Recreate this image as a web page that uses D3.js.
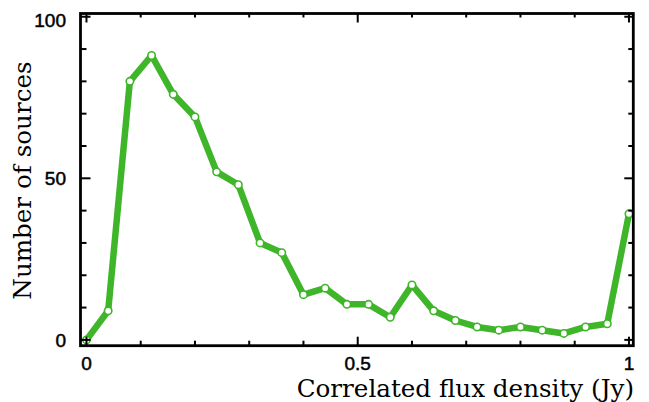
<!DOCTYPE html>
<html>
<head>
<meta charset="utf-8">
<script src="https://cdn.jsdelivr.net/npm/d3@7"></script>
<style>
  body { margin: 0; background: #fff; }
  .ticklabel { font-family: "Liberation Sans", Arial, sans-serif; font-size: 19px; fill: #000; stroke: #000; stroke-width: 0.5px; }
  .title { font-family: "DejaVu Serif", serif; font-size: 24.6px; fill: #000; }
</style>
</head>
<body>
<div id="chart"></div>
<script>
// flux density bins (Jy) and source counts
var flux = [0, 0.04, 0.08, 0.12, 0.16, 0.20, 0.24, 0.28, 0.32, 0.36, 0.40, 0.44, 0.48,
            0.52, 0.56, 0.60, 0.64, 0.68, 0.72, 0.76, 0.80, 0.84, 0.88, 0.92, 0.96, 1.00];
var counts = [0, 9, 80, 88, 76, 69, 52, 48, 30, 27, 14, 16, 11,
              11, 7, 17, 9, 6, 4, 3, 4, 3, 2, 4, 5, 39];
var xTickLabels = [0, 0.5, 1];
var yTickLabels = [0, 50, 100];

var W = 649, H = 402;
var plot = { left: 80.5, right: 633.3, top: 13.5, bottom: 345.7 };

var svg = d3.select('#chart').append('svg')
    .attr('width', W)
    .attr('height', H);

var x = d3.scaleLinear().domain([-0.011, 1.008]).range([plot.left, plot.right]);
var y = d3.scaleLinear().domain([-1.8, 101]).range([plot.bottom, plot.top]);

var data = flux.map((f, i) => ({ f: f, n: counts[i] }));

var green = '#3fb52a';

// line
var line = d3.line()
    .x(d => x(d.f))
    .y(d => y(d.n));

svg.append('path')
    .datum(data)
    .attr('d', line)
    .attr('fill', 'none')
    .attr('stroke', green)
    .attr('stroke-width', 6.5)
    .attr('stroke-linejoin', 'round');

svg.selectAll('.pt')
    .data(data)
    .enter()
    .append('circle')
    .attr('class', 'pt')
    .attr('cx', d => x(d.f))
    .attr('cy', d => y(d.n))
    .attr('r', 3.7)
    .attr('fill', '#fff')
    .attr('stroke', green)
    .attr('stroke-width', 1.6);

// ticks, inward on all four sides
var xt = d3.range(0, 11).map(i => i / 10);
var yt = d3.range(0, 11).map(i => i * 10);
var isMajorX = v => Math.abs(v % 0.5) < 1e-9 || Math.abs(v - 1) < 1e-9;
var isMajorY = v => v % 50 === 0;

var ticks = svg.append('g')
    .attr('stroke', '#000')
    .attr('stroke-width', 2);

ticks.selectAll('.xb')
    .data(xt).enter().append('line')
    .attr('x1', d => x(d)).attr('x2', d => x(d))
    .attr('y1', plot.bottom).attr('y2', d => plot.bottom - (isMajorX(d) ? 9 : 5));

ticks.selectAll('.xt')
    .data(xt).enter().append('line')
    .attr('x1', d => x(d)).attr('x2', d => x(d))
    .attr('y1', plot.top).attr('y2', d => plot.top + (isMajorX(d) ? 9 : 4));

ticks.selectAll('.yl')
    .data(yt).enter().append('line')
    .attr('y1', d => y(d)).attr('y2', d => y(d))
    .attr('x1', plot.left).attr('x2', d => plot.left + (isMajorY(d) ? 10 : 6));

ticks.selectAll('.yr')
    .data(yt).enter().append('line')
    .attr('y1', d => y(d)).attr('y2', d => y(d))
    .attr('x1', plot.right).attr('x2', d => plot.right - (isMajorY(d) ? 9 : 5));

// frame
svg.append('rect')
    .attr('x', plot.left)
    .attr('y', plot.top)
    .attr('width', plot.right - plot.left)
    .attr('height', plot.bottom - plot.top)
    .attr('fill', 'none')
    .attr('stroke', '#000')
    .attr('stroke-width', 2.8);

// tick labels
svg.selectAll('.xlab')
    .data(xTickLabels).enter().append('text')
    .attr('class', 'ticklabel')
    .attr('x', d => x(d))
    .attr('y', 370)
    .attr('text-anchor', 'middle')
    .text(d => d);

svg.selectAll('.ylab')
    .data(yTickLabels).enter().append('text')
    .attr('class', 'ticklabel')
    .attr('x', 66)
    .attr('y', d => Math.max(y(d), 20))
    .attr('dy', '0.36em')
    .attr('text-anchor', 'end')
    .text(d => d);

// axis titles
svg.append('text')
    .attr('class', 'title')
    .attr('x', 634)
    .attr('y', 397)
    .attr('text-anchor', 'end')
    .text('Correlated flux density (Jy)');

svg.append('text')
    .attr('class', 'title')
    .attr('transform', 'translate(31, 180.5) rotate(-90)')
    .attr('text-anchor', 'middle')
    .text('Number of sources');
</script>
</body>
</html>
